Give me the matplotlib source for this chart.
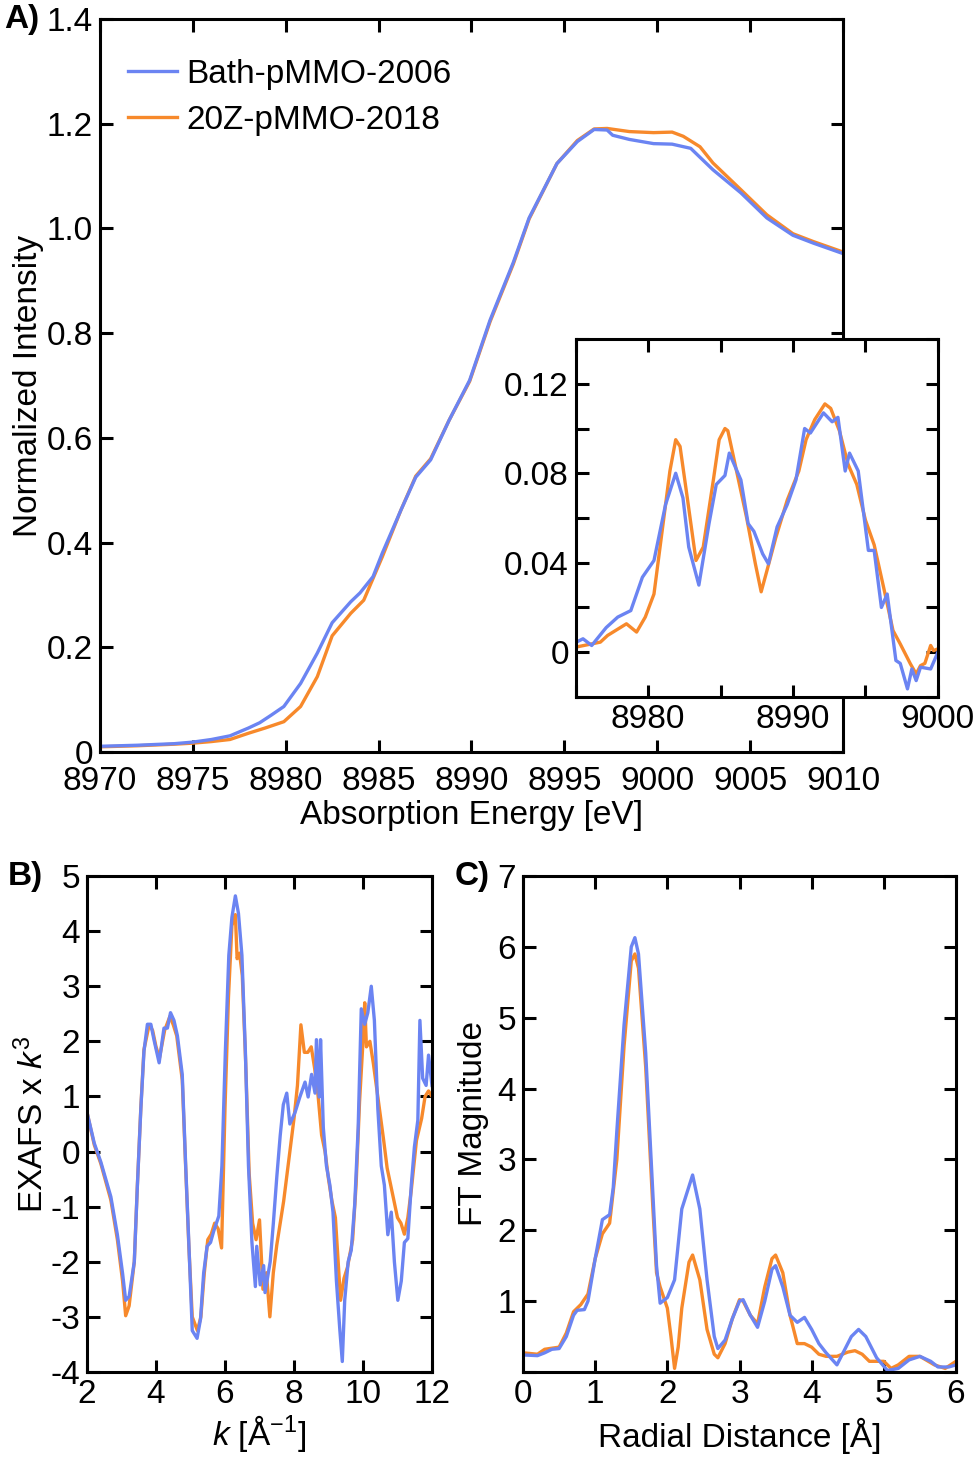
import matplotlib
matplotlib.use("Agg")
import matplotlib.pyplot as plt
from matplotlib.ticker import MultipleLocator, FixedLocator

plt.rcParams['font.family'] = ['Liberation Sans', 'DejaVu Sans']
plt.rcParams['axes.unicode_minus'] = False
plt.rcParams['mathtext.fontset'] = 'custom'
plt.rcParams['mathtext.rm'] = 'Liberation Sans'
plt.rcParams['mathtext.it'] = 'Liberation Sans:italic'

BLUE = '#6b84f2'
ORANGE = '#f7892b'
FS = 24
LW = 2.4

# ---- panel A: XANES ----
xanes_e_blue = [8970, 8972, 8974, 8975, 8976, 8977, 8978, 8978.6, 8979.2, 8979.9, 8980.8,
                8981.7, 8982.5, 8983.5, 8984.0, 8984.7, 8985.2, 8986.2, 8987.0, 8987.8,
                8988.8, 8989.9, 8991.0, 8992.25, 8993.1, 8994.6, 8995.7, 8996.6, 8997.3,
                8997.6, 8998.5, 8999.8, 9000.8, 9001.8, 9003.0, 9004.5, 9005.9, 9007.3,
                9008.4, 9010]
xanes_blue = [0.011, 0.013, 0.016, 0.019, 0.024, 0.031, 0.046, 0.056, 0.070, 0.087, 0.131,
              0.189, 0.247, 0.287, 0.304, 0.335, 0.380, 0.462, 0.525, 0.558,
              0.634, 0.710, 0.825, 0.935, 1.020, 1.124, 1.166, 1.189, 1.188,
              1.178, 1.170, 1.162, 1.161, 1.153, 1.112, 1.068, 1.020, 0.987,
              0.972, 0.952]
xanes_e_orange = [8970, 8972, 8974, 8975, 8976, 8977, 8978, 8978.9, 8979.9, 8980.8,
                  8981.7, 8982.5, 8983.5, 8984.2, 8985.2, 8986.2, 8987.0, 8987.8,
                  8988.8, 8989.9, 8991.0, 8992.25, 8993.1, 8994.6, 8995.7, 8996.6,
                  8997.3, 8998.5, 8999.8, 9000.8, 9001.4, 9002.3, 9003.0, 9004.5,
                  9005.9, 9007.3, 9008.4, 9010]
xanes_orange = [0.010, 0.012, 0.015, 0.017, 0.020, 0.024, 0.036, 0.046, 0.058, 0.087,
                0.144, 0.222, 0.265, 0.290, 0.373, 0.462, 0.527, 0.560,
                0.634, 0.708, 0.822, 0.932, 1.018, 1.124, 1.168, 1.190,
                1.191, 1.185, 1.183, 1.184, 1.176, 1.156, 1.125, 1.074,
                1.026, 0.990, 0.975, 0.955]

# ---- inset: pre-edge difference ----
ins_e_orange = [8974.8, 8976.7, 8977.2, 8978.5, 8979.2, 8979.8, 8980.4, 8980.9, 8981.5,
                8981.9, 8982.2, 8982.7, 8983.3, 8983.8, 8984.5, 8984.9, 8985.3, 8985.5,
                8986.1, 8986.8, 8987.4, 8987.8, 8988.2, 8988.8, 8989.6, 8990.4, 8990.9,
                8991.5, 8992.2, 8992.6, 8993.2, 8993.8, 8994.4, 8995.0, 8995.6, 8996.3,
                8996.9, 8997.4, 8998.1, 8998.5, 8998.8, 8999.1, 8999.5, 8999.7, 9000.0]
ins_orange = [0.002, 0.0045, 0.0075, 0.0127, 0.009, 0.0157, 0.026, 0.051, 0.081,
              0.095, 0.092, 0.069, 0.041, 0.047, 0.077, 0.095, 0.100, 0.099,
              0.081, 0.060, 0.0395, 0.027, 0.0365, 0.051, 0.068, 0.081, 0.095,
              0.104, 0.111, 0.109, 0.099, 0.084, 0.075, 0.059, 0.048, 0.0276,
              0.0097, 0.0037, -0.0052, -0.0097, -0.006, -0.005, 0.003, 0.0007, 0.0015]
ins_e_blue = [8974.8, 8975.5, 8976.1, 8977.1, 8977.9, 8978.8, 8979.6, 8980.4, 8981.2,
              8981.9, 8982.4, 8982.8, 8983.5, 8984.2, 8984.7, 8985.3, 8985.6, 8986.4,
              8986.9, 8987.3, 8987.9, 8988.3, 8988.9, 8989.6, 8990.2, 8990.8, 8991.2,
              8992.1, 8992.7, 8993.1, 8993.6, 8993.9, 8994.5, 8995.2, 8995.6, 8996.1,
              8996.5, 8997.1, 8997.4, 8997.9, 8998.2, 8998.5, 8998.8, 8999.5, 9000.0]
ins_blue = [0.0037, 0.006, 0.003, 0.011, 0.0157, 0.0186, 0.0335, 0.041, 0.066,
            0.080, 0.069, 0.047, 0.030, 0.0575, 0.075, 0.079, 0.089, 0.077,
            0.0575, 0.054, 0.044, 0.0395, 0.056, 0.066, 0.077, 0.100, 0.098,
            0.107, 0.103, 0.105, 0.081, 0.089, 0.081, 0.0455, 0.0455, 0.020,
            0.026, -0.0037, -0.005, -0.0164, -0.0075, -0.0127, -0.0067, -0.0075, 0.0]

# ---- panel B: EXAFS ----
k_blue = [2.0, 2.21, 2.40, 2.69, 2.88, 3.03, 3.12, 3.22, 3.37, 3.46, 3.56, 3.65, 3.75,
          3.85, 3.94, 4.09, 4.23, 4.33, 4.42, 4.52, 4.62, 4.76, 4.86, 4.95, 5.05, 5.19,
          5.29, 5.38, 5.48, 5.58, 5.67, 5.82, 5.91, 6.01, 6.11, 6.20, 6.30, 6.39, 6.49,
          6.59, 6.68, 6.78, 6.88, 6.92, 7.02, 7.12, 7.16, 7.31, 7.40, 7.50, 7.60, 7.69,
          7.79, 7.88, 8.03, 8.17, 8.32, 8.41, 8.51, 8.61, 8.65, 8.73, 8.77, 8.85, 8.94,
          9.04, 9.13, 9.23, 9.33, 9.40, 9.47, 9.57, 9.66, 9.76, 9.86, 9.95, 10.05, 10.14,
          10.24, 10.33, 10.43, 10.53, 10.62, 10.72, 10.82, 10.91, 11.01, 11.11, 11.20,
          11.30, 11.40, 11.49, 11.59, 11.65, 11.73, 11.83, 11.90, 12.0]
exafs_blue = [0.71, 0.15, -0.19, -0.82, -1.51, -2.21, -2.70, -2.63, -2.0, -0.61, 0.78, 1.82,
              2.31, 2.31, 2.03, 1.61, 2.24, 2.24, 2.52, 2.38, 2.10, 1.40, -0.26, -1.65,
              -3.25, -3.39, -3.04, -2.21, -1.72, -1.65, -1.45, -1.17, -0.26, 1.82, 3.56,
              4.25, 4.64, 4.32, 3.56, 1.82, -0.26, -1.65, -2.45, -1.72, -2.42, -2.07,
              -2.56, -2.0, -1.31, -0.47, 0.29, 0.85, 1.06, 0.50, 0.71, 0.99, 1.26, 0.99,
              1.40, 1.06, 2.03, 0.99, 2.03, 0.43, -0.26, -0.61, -1.10, -2.35, -3.25,
              -3.81, -2.70, -2.0, -1.79, -0.96, 0.43, 2.59, 2.31, 2.52, 3.0, 2.38, 0.78,
              -0.26, -0.61, -1.51, -1.10, -2.0, -2.70, -2.35, -1.65, -1.58, -0.61, 0.08,
              0.57, 2.38, 1.33, 1.20, 1.75, 1.20]
k_orange = [2.0, 2.21, 2.40, 2.69, 2.88, 3.03, 3.12, 3.22, 3.37, 3.46, 3.56, 3.65, 3.80,
            3.90, 4.0, 4.1, 4.25, 4.4, 4.5, 4.6, 4.76, 4.86, 4.95, 5.05, 5.2, 5.3,
            5.4, 5.5, 5.6, 5.7, 5.8, 5.9, 6.0, 6.1, 6.2, 6.3, 6.35, 6.42, 6.5, 6.6,
            6.7, 6.8, 6.9, 7.0, 7.1, 7.2, 7.3, 7.4, 7.5, 7.6, 7.7, 7.8, 7.9, 8.0, 8.1,
            8.2, 8.3, 8.4, 8.5, 8.6, 8.7, 8.8, 8.9, 9.0, 9.1, 9.2, 9.35, 9.45, 9.55, 9.7,
            9.8, 9.9, 10.0, 10.05, 10.1, 10.2, 10.3, 10.45, 10.6, 10.7, 10.8, 10.9, 11.0,
            11.1, 11.2, 11.3, 11.4, 11.55, 11.7, 11.8, 11.9, 12.0]
exafs_orange = [0.71, 0.12, -0.22, -0.88, -1.6, -2.35, -2.98, -2.8, -2.0, -0.6, 0.8, 1.85,
                2.3, 2.2, 1.9, 1.7, 2.2, 2.45, 2.3, 2.1, 1.3, -0.3, -1.7, -3.0, -3.25,
                -3.0, -2.2, -1.6, -1.5, -1.3, -1.4, -1.75, 0.8, 2.8, 4.1, 4.3, 3.5, 3.6,
                3.2, 1.6, -0.4, -1.3, -1.6, -1.24, -2.5, -2.2, -3.0, -2.2, -1.7, -1.3,
                -0.9, -0.4, 0.1, 0.6, 1.2, 2.3, 1.8, 1.8, 1.9, 1.5, 1.0, 0.3, 0.0, -0.5,
                -0.9, -1.2, -2.7, -2.3, -2.1, -1.6, -0.6, 0.9, 2.0, 2.7, 1.9, 2.0, 1.6,
                0.9, 0.2, -0.3, -0.6, -0.9, -1.2, -1.3, -1.5, -1.2, -0.7, 0.2, 0.6, 1.0,
                1.1, 1.0]

# ---- panel C: Fourier transform ----
r_blue = [0.0, 0.2, 0.3, 0.4, 0.5, 0.6, 0.7, 0.75, 0.85, 0.9, 1.0, 1.1, 1.2, 1.25, 1.3,
          1.4, 1.5, 1.55, 1.6, 1.7, 1.8, 1.85, 1.9, 2.0, 2.1, 2.2, 2.35, 2.45, 2.55, 2.65,
          2.7, 2.8, 2.9, 3.0, 3.05, 3.15, 3.25, 3.35, 3.45, 3.5, 3.6, 3.7, 3.8, 3.9, 4.0,
          4.1, 4.2, 4.35, 4.45, 4.55, 4.65, 4.75, 4.9, 5.05, 5.2, 5.35, 5.5, 5.65, 5.75,
          5.9, 6.0]
ft_blue = [0.24, 0.23, 0.27, 0.32, 0.33, 0.50, 0.80, 0.87, 0.88, 1.0, 1.6, 2.15, 2.22, 2.6,
           3.4, 4.9, 6.0, 6.13, 5.9, 4.5, 2.5, 1.5, 0.97, 1.05, 1.3, 2.3, 2.78, 2.3, 1.3,
           0.5, 0.33, 0.45, 0.75, 1.0, 1.02, 0.8, 0.63, 1.0, 1.45, 1.5, 1.2, 0.8, 0.7,
           0.77, 0.6, 0.4, 0.27, 0.1, 0.3, 0.5, 0.6, 0.5, 0.2, 0.02, 0.05, 0.17, 0.22,
           0.15, 0.07, 0.07, 0.1]
r_orange = [0.0, 0.2, 0.3, 0.5, 0.6, 0.7, 0.8, 0.9, 1.0, 1.1, 1.2, 1.3, 1.4, 1.5, 1.55,
            1.6, 1.7, 1.8, 1.85, 1.9, 2.0, 2.05, 2.1, 2.15, 2.2, 2.3, 2.35, 2.45, 2.55,
            2.65, 2.7, 2.8, 2.9, 3.0, 3.05, 3.15, 3.25, 3.35, 3.45, 3.5, 3.6, 3.7, 3.8,
            3.9, 4.0, 4.1, 4.2, 4.35, 4.5, 4.6, 4.7, 4.8, 5.0, 5.1, 5.2, 5.35, 5.5, 5.7,
            5.85, 6.0]
ft_orange = [0.27, 0.25, 0.32, 0.35, 0.55, 0.85, 0.95, 1.1, 1.6, 1.95, 2.1, 3.0, 4.6, 5.8,
             5.9, 5.7, 4.3, 2.3, 1.4, 1.2, 0.9, 0.5, 0.05, 0.35, 0.9, 1.55, 1.65, 1.3,
             0.6, 0.25, 0.2, 0.4, 0.75, 1.02, 1.0, 0.8, 0.68, 1.2, 1.6, 1.65, 1.4, 0.8,
             0.4, 0.4, 0.35, 0.25, 0.22, 0.22, 0.28, 0.3, 0.25, 0.15, 0.15, 0.05, 0.1,
             0.22, 0.22, 0.1, 0.05, 0.15]


def style(ax):
    for s in ax.spines.values():
        s.set_linewidth(2.2)
    ax.tick_params(which='both', direction='in', top=True, right=True,
                   width=2.2, labelsize=FS, pad=5)
    ax.tick_params(which='major', length=9)
    ax.tick_params(which='minor', length=6)


fig = plt.figure(figsize=(9.78, 14.62), dpi=100)

# panel A
axA = fig.add_axes([0.1022, 0.4856, 0.7598, 0.5014])
axA.plot(xanes_e_orange, xanes_orange, color=ORANGE, lw=LW, label='20Z-pMMO-2018')
axA.plot(xanes_e_blue, xanes_blue, color=BLUE, lw=LW, label='Bath-pMMO-2006')
axA.set_xlim(8970, 9010)
axA.set_ylim(0, 1.4)
axA.set_xticks([8970, 8975, 8980, 8985, 8990, 8995, 9000, 9005, 9010])
axA.set_yticks([0, 0.2, 0.4, 0.6, 0.8, 1.0, 1.2, 1.4])
axA.set_yticklabels(['0', '0.2', '0.4', '0.6', '0.8', '1.0', '1.2', '1.4'])
style(axA)
axA.tick_params(axis='x', pad=10)
axA.set_xlabel('Absorption Energy [eV]', fontsize=FS, labelpad=2)
axA.set_ylabel('Normalized Intensity', fontsize=FS, labelpad=2)
h, l = axA.get_legend_handles_labels()
axA.legend(h[::-1], l[::-1], loc='upper left', bbox_to_anchor=(0.038, 0.946),
           borderaxespad=0, borderpad=0, frameon=False, fontsize=FS,
           handlelength=1.45, handletextpad=0.3, labelspacing=0.45)
fig.text(0.004, 0.987, 'A)', fontsize=FS, fontweight='bold', va='center')

# inset
axI = fig.add_axes([0.5887, 0.5233, 0.3703, 0.2448])
axI.plot(ins_e_orange, ins_orange, color=ORANGE, lw=LW)
axI.plot(ins_e_blue, ins_blue, color=BLUE, lw=LW)
axI.set_xlim(8975, 9000)
axI.set_ylim(-0.02, 0.14)
axI.set_xticks([8980, 8990, 9000])
axI.xaxis.set_minor_locator(FixedLocator([8975, 8985, 8995]))
axI.set_yticks([0, 0.04, 0.08, 0.12])
axI.set_yticklabels(['0', '0.04', '0.08', '0.12'])
axI.yaxis.set_minor_locator(FixedLocator([-0.02, 0.02, 0.06, 0.10, 0.14]))
style(axI)
axI.tick_params(which='minor', length=9)

# panel B
axB = fig.add_axes([0.0890, 0.0616, 0.3527, 0.3392])
axB.plot(k_orange, exafs_orange, color=ORANGE, lw=LW)
axB.plot(k_blue, exafs_blue, color=BLUE, lw=LW)
axB.set_xlim(2, 12)
axB.set_ylim(-4, 5)
axB.xaxis.set_major_locator(MultipleLocator(2))
axB.yaxis.set_major_locator(MultipleLocator(1))
style(axB)
axB.set_xlabel(r'$k$ [Å$^{-1}$]', fontsize=FS, labelpad=2)
axB.set_ylabel(r'EXAFS x $k^3$', fontsize=FS, labelpad=0)
fig.text(0.008, 0.4008, 'B)', fontsize=FS, fontweight='bold', va='center')

# panel C
axC = fig.add_axes([0.5348, 0.0616, 0.4427, 0.3392])
axC.plot(r_orange, ft_orange, color=ORANGE, lw=LW)
axC.plot(r_blue, ft_blue, color=BLUE, lw=LW)
axC.set_xlim(0, 6)
axC.set_ylim(0, 7)
axC.xaxis.set_major_locator(MultipleLocator(1))
axC.set_yticks([0, 1, 2, 3, 4, 5, 6, 7])
axC.set_yticklabels(['', '1', '2', '3', '4', '5', '6', '7'])
style(axC)
axC.set_xlabel('Radial Distance [Å]', fontsize=FS, labelpad=6)
axC.set_ylabel('FT Magnitude', fontsize=FS, labelpad=6)
fig.text(0.465, 0.4008, 'C)', fontsize=FS, fontweight='bold', va='center')

fig.savefig('out.png', dpi=100)
